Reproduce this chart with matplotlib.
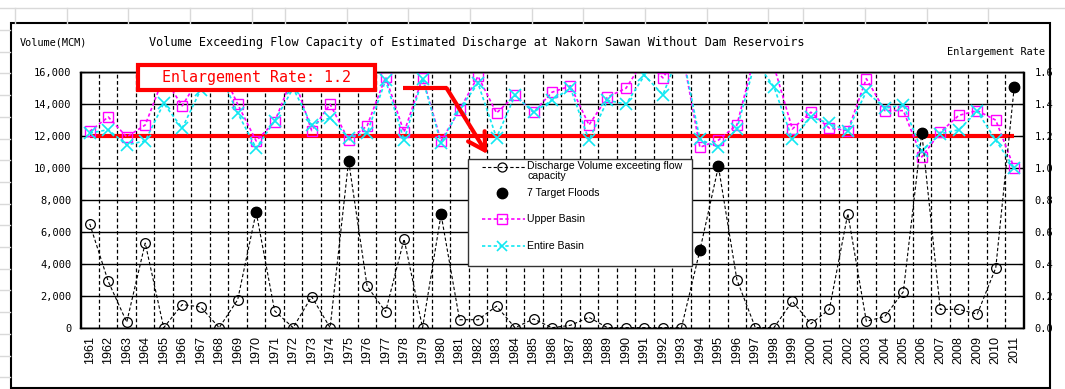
import numpy as np
import matplotlib
matplotlib.use("Agg")
import matplotlib.pyplot as plt
from matplotlib.lines import Line2D
from matplotlib.patches import Rectangle

# ---- data -------------------------------------------------------------
years = list(range(1961, 2012))

discharge_volume = [
    6500, 2900, 350, 5300, 0, 1450, 1300, 0, 1750, 7250,
    1050, 0, 1950, 0, 10450, 2600, 1000, 5550, 0, 7100,
    500, 500, 1350, 0, 550, 0, 150, 650, 0, 0,
    0, 0, 0, 4850, 10100, 3000, 0, 0, 1650, 250,
    1150, 7150, 400, 700, 2250, 12200, 1150, 1150, 850, 3750, 15100,
]

target_flood_years = [1970, 1975, 1980, 1994, 1995, 2006, 2011]

upper_basin_rate = [
    1.23, 1.32, 1.195, 1.27, 1.57, 1.39, 1.58, 1.65, 1.40, 1.17,
    1.29, 1.58, 1.235, 1.40, 1.175, 1.265, 1.57, 1.225, 1.565, 1.17,
    1.365, 1.575, 1.345, 1.455, 1.35, 1.475, 1.515, 1.27, 1.445, 1.50,
    1.68, 1.565, 1.75, 1.13, 1.175, 1.27, 1.72, 1.64, 1.245, 1.35,
    1.25, 1.235, 1.56, 1.36, 1.36, 1.07, 1.225, 1.33, 1.36, 1.30, 1.00,
]

entire_basin_rate = [
    1.22, 1.24, 1.145, 1.17, 1.405, 1.25, 1.49, 1.60, 1.345, 1.125,
    1.295, 1.50, 1.27, 1.315, 1.19, 1.22, 1.55, 1.175, 1.56, 1.155,
    1.37, 1.53, 1.19, 1.455, 1.35, 1.425, 1.50, 1.175, 1.425, 1.40,
    1.58, 1.46, 1.75, 1.18, 1.13, 1.245, 1.67, 1.51, 1.18, 1.32,
    1.28, 1.235, 1.48, 1.375, 1.395, 1.11, 1.215, 1.24, 1.355, 1.175, 1.00,
]

enlargement_rate = 1.2

volume_ticks = [0, 2000, 4000, 6000, 8000, 10000, 12000, 14000, 16000]
rate_ticks = [0.0, 0.2, 0.4, 0.6, 0.8, 1.0, 1.2, 1.4, 1.6]

title = ("Volume Exceeding Flow Capacity of Estimated Discharge "
         "at Nakorn Sawan Without Dam Reservoirs")
legend_labels = ["Discharge Volume exceeting flow\ncapacity", "7 Target Floods",
                 "Upper Basin", "Entire Basin"]

# ---- styles -----------------------------------------------------------
MONO = "DejaVu Sans Mono"
SANS = "Liberation Sans"
MAGENTA = "#FF00FF"
CYAN = "#10E8F2"
RED = "#FF0000"
RATE_DASH = (0, (2.0, 1.5))

W, H = 1065, 389
fig = plt.figure(figsize=(W / 100, H / 100), dpi=100)
fig.patch.set_facecolor("white")


def px_box(left, top, right, bottom):
    return [left / W, 1 - bottom / H, (right - left) / W, (bottom - top) / H]


ax = fig.add_axes(px_box(80.5, 72.3, 1023.5, 327.7))
ax2 = ax.twinx()
# volume series drawn above the rate series
ax.set_zorder(ax2.get_zorder() + 1)
ax.patch.set_visible(False)

idx = np.arange(len(years))

# category boundary grid (dashed) and value grid (solid), behind the series
for b in np.arange(1, len(years)) - 0.5:
    ax2.axvline(b, color="black", lw=0.9, ls=(0, (3, 2)), zorder=0.5)
ax2.grid(axis="y", which="major", color="black", lw=1.0, ls="-")
ax2.set_axisbelow(True)

# rate series on the right axis
ax2.plot(idx, np.full(len(years), enlargement_rate), color=RED, lw=3,
         solid_capstyle="butt", zorder=2)
ax2.plot(idx, upper_basin_rate, color=MAGENTA, lw=1.2, ls=RATE_DASH,
         marker="s", ms=7, mfc="none", mec=MAGENTA, mew=1.0, zorder=3)
ax2.plot(idx, entire_basin_rate, color=CYAN, lw=1.2, ls=RATE_DASH,
         marker="x", ms=8, mec=CYAN, mew=1.2, zorder=4)

# volume series on the left axis
ax.plot(idx, discharge_volume, color="black", lw=0.8, ls=(0, (3, 2)),
        marker="o", ms=7, mfc="none", mec="black", mew=0.9, zorder=3)
flood_idx = [years.index(y) for y in target_flood_years]
ax.plot(flood_idx, [discharge_volume[i] for i in flood_idx], ls="none",
        marker="o", ms=7.5, color="black", zorder=4)

# axes
ax.set_xlim(-0.5, len(years) - 0.5)
ax.set_ylim(volume_ticks[0], volume_ticks[-1])
ax2.set_ylim(rate_ticks[0], rate_ticks[-1])

ax.set_xticks(idx)
ax.set_xticklabels([str(y) for y in years], rotation=90, fontsize=9,
                   fontfamily=SANS)
ax.tick_params(axis="x", which="both", length=0, pad=6)

ax.set_yticks(volume_ticks)
ax.set_yticklabels([f"{v:,}" for v in volume_ticks], fontsize=7.5,
                   fontfamily=MONO)
ax.tick_params(axis="y", direction="in", length=3, pad=6.5)

ax2.set_yticks(rate_ticks)
ax2.set_yticklabels([f"{v:.1f}" for v in rate_ticks], fontsize=7.5,
                    fontfamily=MONO)
ax2.tick_params(axis="y", direction="in", length=3, pad=8)
ax.grid(False)

for a in (ax, ax2):
    for s in a.spines.values():
        s.set_color("black")
        s.set_linewidth(1.0)

# ---- overlay: titles, frame, callout, legend -------------------------
ov = fig.add_axes([0, 0, 1, 1], zorder=10)
ov.set_xlim(0, W)
ov.set_ylim(H, 0)
ov.axis("off")
ov.patch.set_visible(False)

# worksheet cell lines around the chart object
sheet_grey = "#d9d9d9"
ov.plot([0, W], [8.3, 8.3], color=sheet_grey, lw=1)
for cx in [15, 66.7, 128.3, 190, 251.7, 285, 346.7, 408.3, 470, 531.7,
           583.3, 645, 706.7, 768.3, 803.3, 865, 926.7, 988.3]:
    ov.plot([cx, cx], [8.3, 23], color=sheet_grey, lw=1)
for ry in np.arange(30, H, 21.7):
    ov.plot([0, 10], [ry, ry], color=sheet_grey, lw=1)

# chart frame
ov.add_patch(Rectangle((11, 23.3), 1039, 364.5, fill=False, ec="black",
                       lw=1.5))

ov.text(20, 42, "Volume(MCM)", fontsize=7.4, fontfamily=MONO,
        va="center", ha="left")
ov.text(149, 42, title, fontsize=8.55, fontfamily=MONO,
        va="center", ha="left")
ov.text(1045, 51.5, "Enlargement Rate", fontsize=7.4, fontfamily=MONO,
        va="center", ha="right")

# enlargement rate callout
ov.add_patch(Rectangle((137.5, 64.8), 237, 25.5, fc="white", ec=RED, lw=3))
ov.text(256, 77.5, f"Enlargement Rate: {enlargement_rate}", color=RED,
        fontsize=10.8, fontfamily=MONO, va="center", ha="center")
ov.plot([403.3, 446.7], [88.3, 88.3], color=RED, lw=3,
        solid_capstyle="butt")
ov.annotate("", xy=(487.3, 154), xytext=(446.7, 88.3),
            arrowprops=dict(arrowstyle="->,head_length=0.6,head_width=0.35",
                            color=RED, lw=3, shrinkA=0, shrinkB=0,
                            mutation_scale=20))

# legend
ov.add_patch(Rectangle((468.3, 159), 224, 106.7, fc="white", ec="#333333",
                       lw=1))
lx0, lx1, lxm, tx = 481.7, 525, 502, 527
ov.add_line(Line2D([lx0, lx1], [167, 167], color="black", lw=0.8,
                   ls=(0, (3, 2))))
ov.add_line(Line2D([lxm], [167], marker="o", ms=6.5, mfc="none",
                   mec="black", mew=0.9))
ov.add_line(Line2D([lxm], [192.7], marker="o", ms=7.5, color="black"))
ov.add_line(Line2D([lx0, lx1], [219.3, 219.3], color=MAGENTA, lw=1.2,
                   ls=RATE_DASH))
ov.add_line(Line2D([lxm], [219.3], marker="s", ms=6.5, mfc="none",
                   mec=MAGENTA, mew=1.0))
ov.add_line(Line2D([lx0, lx1], [245.7, 245.7], color=CYAN, lw=1.2,
                   ls=RATE_DASH))
ov.add_line(Line2D([lxm], [245.7], marker="x", ms=7, mec=CYAN, mew=1.2))
ov.text(tx, 161, legend_labels[0], fontsize=7.6, fontfamily=SANS,
        va="top", ha="left", linespacing=0.98)
for ly, lab in zip([192.7, 219.3, 245.7], legend_labels[1:]):
    ov.text(tx, ly, lab, fontsize=7.6, fontfamily=SANS, va="center",
            ha="left")

fig.savefig("out.png", dpi=100)
